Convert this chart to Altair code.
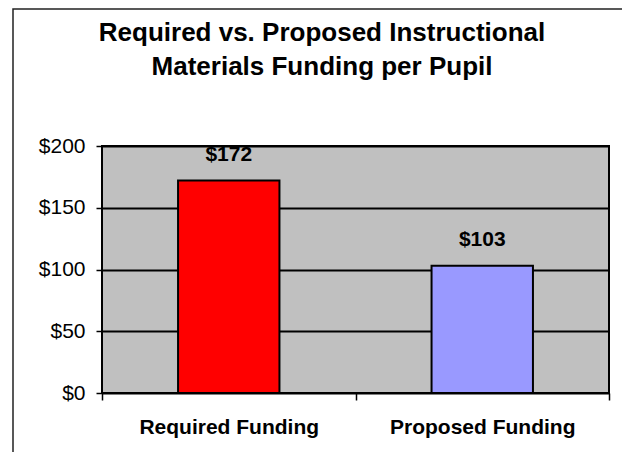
import altair as alt
import pandas as pd

categories = ["Required Funding", "Proposed Funding"]
values = [172, 103]
colors = ["#ff0000", "#9999ff"]
y_ticks = [0, 50, 100, 150, 200]
title_lines = ["Required vs. Proposed Instructional", "Materials Funding per Pupil"]

FONT = "Liberation Sans"

df = pd.DataFrame({"category": categories, "value": values, "color": colors})

x_enc = alt.X(
    "category:N",
    sort=categories,
    title=None,
    scale=alt.Scale(paddingInner=0, paddingOuter=0),
    axis=alt.Axis(
        labelAngle=0, labelFont=FONT, labelFontSize=21, labelFontWeight="bold",
        labelColor="black", labelPadding=16, labelLimit=400, tickBand="extent", ticks=True,
        tickColor="black", tickSize=7, tickWidth=1.5, domain=False, grid=False,
    ),
)
y_enc = alt.Y(
    "value:Q",
    title=None,
    scale=alt.Scale(domain=[0, 200]),
    axis=alt.Axis(
        values=y_ticks, format="$.0f", labelFont=FONT, labelFontSize=21,
        labelColor="black", labelPadding=11, tickSize=6, tickColor="black",
        tickWidth=1.5, grid=True, gridColor="black", gridWidth=2, domain=False,
    ),
)

bars = alt.Chart(df).mark_bar(
    width=alt.RelativeBandSize(0.4), stroke="black", strokeWidth=2
).encode(x=x_enc, y=y_enc, color=alt.Color("color:N", scale=None))

labels = alt.Chart(df).mark_text(
    dy=-26, baseline="middle", font=FONT, fontSize=21, fontWeight="bold", color="black"
).encode(
    x=alt.X("category:N", sort=categories),
    y=alt.Y("value:Q"),
    text=alt.Text("value:Q", format="$.0f"),
)

title = alt.Chart(alt.Data(values=[{}])).mark_text(
    font=FONT, fontSize=26, fontWeight="bold", color="black",
    lineHeight=34, align="center", baseline="alphabetic",
).encode(x=alt.value(220), y=alt.value(-105), text=alt.value(title_lines))

border = alt.Chart(alt.Data(values=[{}])).mark_rect(
    fill="transparent", stroke="#222222", strokeWidth=1.5
).encode(x=alt.value(-89), x2=alt.value(526), y=alt.value(-137), y2=alt.value(400))

chart = alt.layer(bars, labels, title, border).properties(
    width=507,
    height=247,
    padding={"left": 94, "top": 138, "right": 13, "bottom": 59},
    autosize=alt.AutoSizeParams(type="none"),
    background="white",
).configure_view(fill="#c0c0c0", stroke="black", strokeWidth=2)

chart.save("out.html", embed_options={"renderer": "svg", "actions": False})
